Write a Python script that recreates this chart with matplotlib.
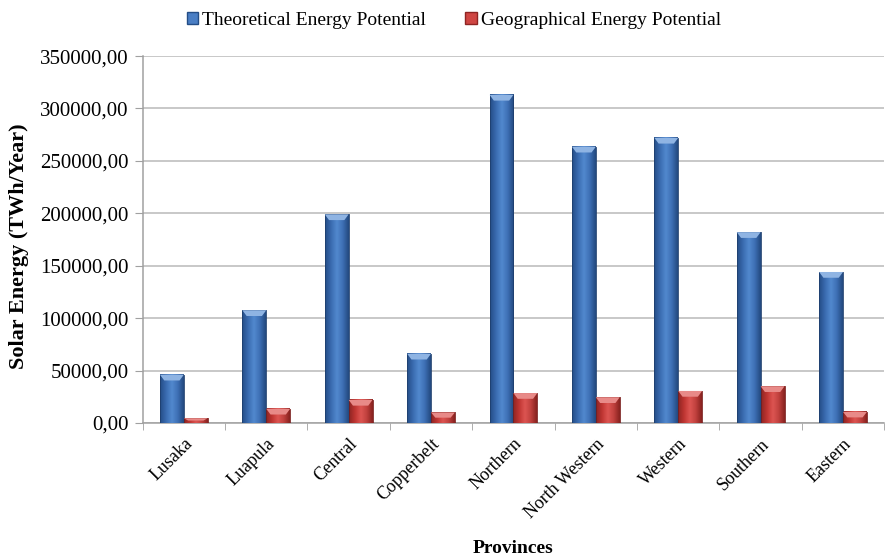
import numpy as np
import matplotlib.pyplot as plt
from matplotlib.colors import LinearSegmentedColormap
from matplotlib.patches import Patch, Polygon
from matplotlib.ticker import FuncFormatter, MultipleLocator

provinces = ["Lusaka", "Luapula", "Central", "Copperbelt", "Northern",
             "North Western", "Western", "Southern", "Eastern"]
theoretical = [46000, 107500, 199000, 66000, 313000, 263500, 272000, 182000, 144000]
geographical = [4500, 13500, 22000, 10000, 28500, 24500, 30500, 35000, 10500]

plt.rcParams['font.family'] = ['Liberation Serif', 'DejaVu Serif']

blue_cmap = LinearSegmentedColormap.from_list(
    "blue", ["#244d86", "#3a6bb0", "#5289cf", "#3d6fb4", "#23497f"])
red_cmap = LinearSegmentedColormap.from_list(
    "red", ["#8e2523", "#bf3532", "#dd5552", "#c0403d", "#87221f"])

fig = plt.figure(figsize=(8.86, 5.55), dpi=100)
ax = fig.add_axes([0.161, 0.238, 0.837, 0.661])

x = np.arange(len(provinces))
w = 0.29
ymax = 350000


def shaded_bar(x0, h, cmap, cap_color, edge):
    # cylinder-like shading across the bar width
    grad = np.linspace(0, 1, 64).reshape(1, -1)
    ax.imshow(grad, cmap=cmap, aspect='auto', extent=(x0, x0 + w, 0, h),
              origin='lower', zorder=3, interpolation='bicubic')
    ax.plot([x0, x0, x0 + w, x0 + w], [0, h, h, 0], color=edge, lw=0.6, zorder=4)
    # bevelled top cap
    cap = min(h * 0.5, 5500)
    inset = w * 0.18
    ax.add_patch(Polygon([(x0, h), (x0 + w, h), (x0 + w - inset, h - cap),
                          (x0 + inset, h - cap)], closed=True,
                         facecolor=cap_color, edgecolor='none', zorder=4))


for i in x:
    shaded_bar(i - w, theoretical[i], blue_cmap, '#8fb4e3', '#1f3f6e')
    shaded_bar(i, geographical[i], red_cmap, '#e88a88', '#7a1d1b')

ax.set_xlim(-0.5, len(provinces) - 0.5)
ax.set_ylim(0, ymax)

ax.yaxis.set_major_locator(MultipleLocator(50000))
ax.yaxis.set_major_formatter(FuncFormatter(lambda v, p: f"{v:.2f}".replace('.', ',')))
ax.grid(axis='y', color='#c4c4c4', lw=1.3, zorder=0)
ax.set_axisbelow(True)

ax.set_xticks(x)
ax.set_xticklabels(provinces, rotation=45, ha='right', va='top',
                   rotation_mode='anchor', fontsize=13)
ax.set_xticks(np.arange(len(provinces) + 1) - 0.5, minor=True)
ax.tick_params(axis='x', which='major', length=0, pad=9)
ax.tick_params(axis='x', which='minor', length=5, color='#a0a0a0')
ax.tick_params(axis='y', length=6, color='#a0a0a0', labelsize=15, pad=4)

for s in ['top', 'right']:
    ax.spines[s].set_visible(False)
for s in ['left', 'bottom']:
    ax.spines[s].set_color('#a0a0a0')
    ax.spines[s].set_linewidth(1.1)

ax.set_ylabel("Solar Energy (TWh/Year)", fontsize=16, fontweight='bold')
ax.yaxis.set_label_coords(-0.153, 0.482)
ax.set_xlabel("Provinces", fontsize=14, fontweight='bold')
ax.xaxis.set_label_coords(0.5, -0.318)

handles = [Patch(facecolor='#4a7ec4', edgecolor='#244d86', label='Theoretical Energy Potential'),
           Patch(facecolor='#cf4643', edgecolor='#8e2523', label='Geographical Energy Potential')]
fig.legend(handles=handles, loc='upper center', bbox_to_anchor=(0.512, 1.01), ncol=2,
           frameon=False, fontsize=14, handlelength=0.6, handleheight=0.6,
           handletextpad=0.2, columnspacing=2.0)

fig.savefig("out.png", dpi=100)
